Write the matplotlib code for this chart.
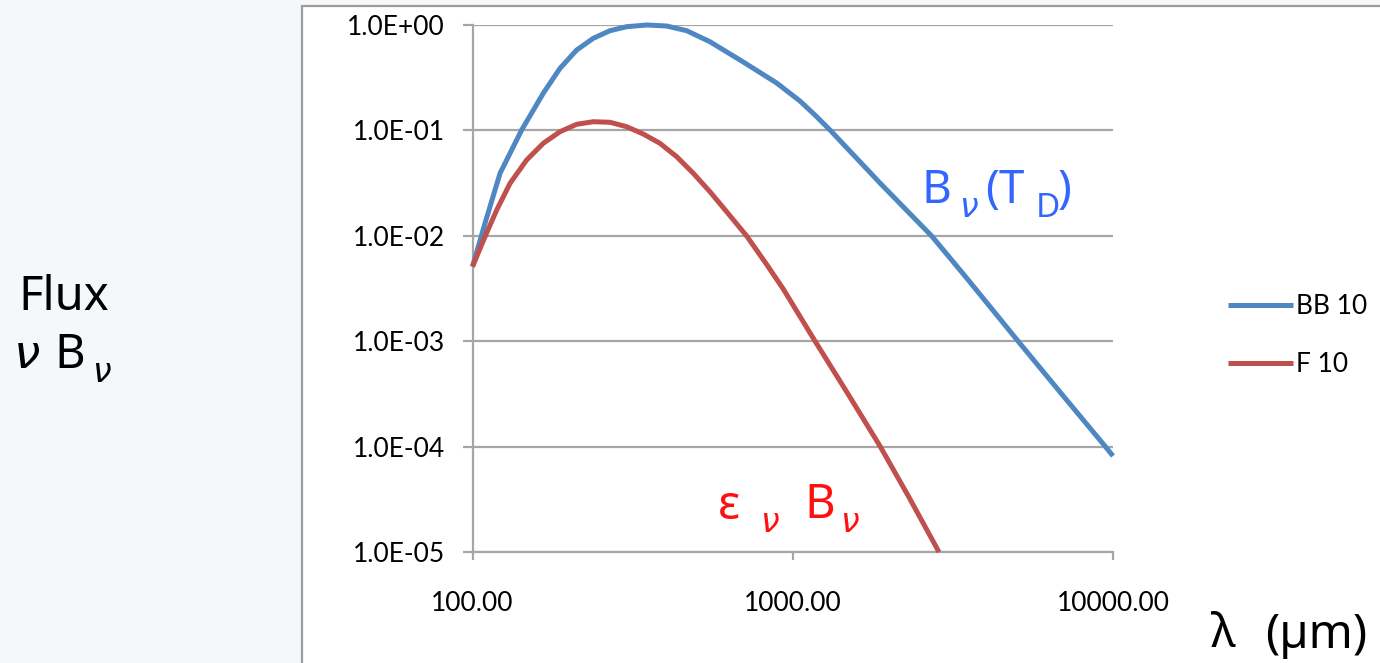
import matplotlib
matplotlib.use('Agg')
import matplotlib.pyplot as plt
from matplotlib.patches import Rectangle
from matplotlib.ticker import NullLocator

plt.rcParams['font.family'] = ['Lato', 'DejaVu Sans']

# values (wavelength in um, normalised flux)
bb_wl = [100, 109.4, 121.9, 142.4, 166.3, 187.6, 211.5, 238.3, 268.7, 302.9,
         349.9, 404, 466.4, 551.3, 700.6, 890.7, 1053, 1173, 1307, 1872,
         2715, 3491, 5048, 6829, 9434, 10000]
bb_flux = [0.0051, 0.01314, 0.03917, 0.1009, 0.2249, 0.3883, 0.579, 0.7478, 0.8829, 0.9636,
           1.0, 0.978, 0.8829, 0.694, 0.4456, 0.2817, 0.190, 0.140, 0.1009, 0.0317,
           0.00996, 0.003977, 0.001005, 3.30e-4, 1.013e-4, 8.14e-5]
f_wl = [100, 109.4, 119.0, 131.0, 147.6, 166.3, 187.6, 211.5, 238.3, 268.7,
        302.9, 341.5, 384.9, 434.1, 489.1, 551.3, 621.6, 718.0, 828.7, 933.9,
        1173, 1482, 1872, 2314, 2861]
f_flux = [0.0051, 0.0098, 0.01757, 0.03148, 0.0524, 0.0754, 0.0972, 0.1143, 0.1209, 0.1194,
          0.1084, 0.0924, 0.0754, 0.0563, 0.0392, 0.0262, 0.01693, 0.00996, 0.00535, 0.00313,
          0.001005, 3.22e-4, 1.013e-4, 3.25e-5, 1e-5]

xticks = [100, 1000, 10000]
xlabels = ['100.00', '1000.00', '10000.00']
yticks = [1e-5, 1e-4, 1e-3, 1e-2, 1e-1, 1]
ylabels = ['1.0E-05', '1.0E-04', '1.0E-03', '1.0E-02', '1.0E-01', '1.0E+00']

W, H = 1380, 663
fig = plt.figure(figsize=(13.8, 6.63), dpi=100, facecolor='#f5f8fa')

# white chart box
box = Rectangle((301.5 / W, -0.05), 1.0, 1.05 - 6.5 / H, transform=fig.transFigure,
                facecolor='white', edgecolor='#9c9c9c', lw=1.6, zorder=0)
fig.add_artist(box)

ax = fig.add_axes([472.5 / W, 111 / H, 640.5 / W, 527 / H])
ax.set_facecolor('none')
ax.plot(bb_wl, bb_flux, color='#4f87c2', lw=3.6, label='BB 10', clip_on=False, zorder=3,
        solid_capstyle='butt')
ax.plot(f_wl, f_flux, color='#c0504d', lw=3.6, label='F 10', clip_on=False, zorder=3,
        solid_capstyle='butt')

ax.set_xscale('log')
ax.set_yscale('log')
ax.set_xlim(100, 10000)
ax.set_ylim(1e-5, 1)
ax.set_xticks(xticks)
ax.set_xticklabels(xlabels)
ax.set_yticks(yticks)
ax.set_yticklabels(ylabels)
ax.xaxis.set_minor_locator(NullLocator())
ax.yaxis.set_minor_locator(NullLocator())

ax.grid(axis='y', color='#a6a6a6', lw=1.6)
ax.set_axisbelow(True)
for s in ['top', 'right']:
    ax.spines[s].set_visible(False)
for s in ['left', 'bottom']:
    ax.spines[s].set_color('#a6a6a6')
    ax.spines[s].set_linewidth(1.6)
ax.tick_params(axis='y', length=7, width=1.6, color='#a6a6a6', pad=13, labelsize=19)
ax.tick_params(axis='x', length=6, width=1.6, color='#a6a6a6', pad=22, labelsize=19)

ax.legend(loc='center left', bbox_to_anchor=(1228 / W, 1 - 335.5 / H),
          bbox_transform=fig.transFigure, frameon=False, fontsize=19,
          handlelength=2.45, handletextpad=0.12, labelspacing=1.25,
          borderpad=0, borderaxespad=0)


def px(x, y):
    return x / W, 1 - y / H


def word(x, y, s, size=34, color='black', italic=False):
    fam = ['DejaVu Sans'] if italic else ['Noto Sans', 'DejaVu Sans']
    fig.text(*px(x, y), s, fontsize=size, color=color, family=fam,
             style='italic' if italic else 'normal', va='baseline', ha='left')


# y axis title
word(18, 310, 'Flux')
word(14, 368, 'ν', italic=True)
word(54, 368, 'B')
word(92, 382, 'ν', size=24, italic=True)

# curve labels
blue = '#3366ff'
word(922, 203, 'B', size=33, color=blue)
word(959, 217, 'ν', size=24, color=blue, italic=True)
word(985, 203, '(T', size=33, color=blue)
word(1036, 217, 'D', size=24, color=blue)
word(1058, 203, ')', size=33, color=blue)

red = '#ff1010'
word(718, 519, 'ε', size=34, color=red)
word(760, 532, 'ν', size=24, color=red, italic=True)
word(804, 518, 'B', size=34, color=red)
word(840, 532, 'ν', size=24, color=red, italic=True)

# x axis title
word(1211, 647, 'λ', size=34)
word(1265, 648, '(µm)', size=34)

fig.savefig('out.png', dpi=100, facecolor=fig.get_facecolor())
